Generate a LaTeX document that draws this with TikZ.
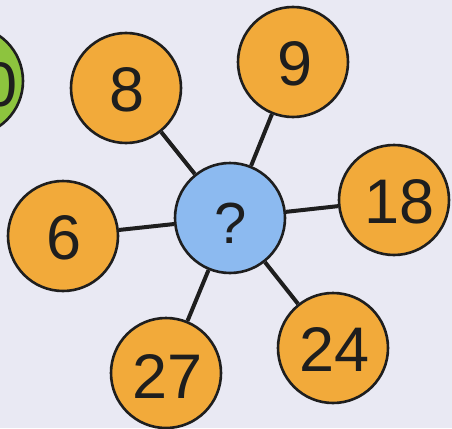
\documentclass[tikz,border=0pt]{standalone}
\usepackage{fontspec}
\setmainfont{Liberation Sans}
\definecolor{bg}{HTML}{E9E9F3}
\definecolor{orng}{HTML}{F2AA3A}
\definecolor{blu}{HTML}{8CBAF0}
\definecolor{grn}{HTML}{8DC43E}
\definecolor{ink}{HTML}{1E1E1E}
\begin{document}
\begin{tikzpicture}[x=1pt,y=-1pt,
  ball/.style={circle,draw=ink,line width=2.6pt,minimum size=110pt,inner sep=0pt},
  num/.style={inner sep=0pt,text=ink,font=\fontsize{63}{63}\selectfont},
  spoke/.style={draw=ink,line width=4pt}]
\fill[bg] (0,0) rectangle (452,428);
\useasboundingbox (0,0) rectangle (452,428);
\begin{scope}
\clip (0,0) rectangle (452,428);
\node[ball,fill=grn] (g) at (-32,81) {};
\node[num,anchor=east] (g0) at (18,85) {0};
\node[ball,fill=blu] (c) at (230,218) {};
\node[ball,fill=orng] (n8) at (126,88) {};
\node[ball,fill=orng] (n9) at (293,62) {};
\node[ball,fill=orng] (n18) at (394,200) {};
\node[ball,fill=orng] (n6) at (63,236) {};
\node[ball,fill=orng] (n27) at (166,373) {};
\node[ball,fill=orng] (n24) at (333,348) {};
\foreach \n in {n8,n9,n18,n6,n27,n24}{\draw[spoke] (c) -- (\n);}
\node[num,font=\fontsize{58}{58}\selectfont] (tq) at (231,223) {?};
\node[num] (t8) at (127,90) {8};
\node[num] (t9) at (295,64) {9};
\node[num] (t18) at (400,202) {18};
\node[num] (t6) at (64,238) {6};
\node[num] (t27) at (168,376) {27};
\node[num] (t24) at (335,350) {24};
\end{scope}
\end{tikzpicture}
\end{document}
